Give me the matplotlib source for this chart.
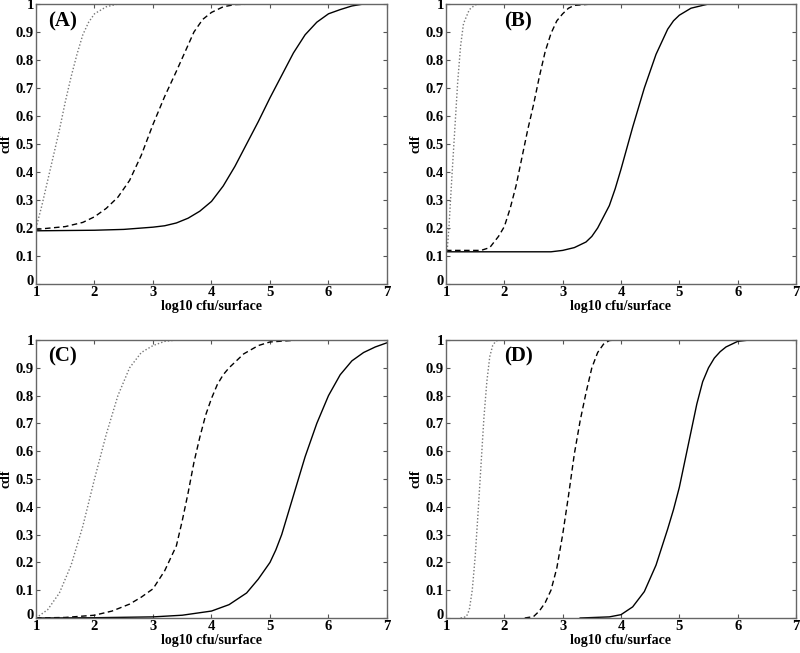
import matplotlib
matplotlib.use("Agg")
import matplotlib.pyplot as plt
import matplotlib.transforms as mtransforms

plt.rcParams['font.family'] = ['Liberation Serif', 'DejaVu Serif']
plt.rcParams['font.weight'] = 'bold'

panel_labels = ['(A)', '(B)', '(C)', '(D)']
xlabel = 'log10 cfu/surface'
ylabel = 'cdf'
xticks = [1, 2, 3, 4, 5, 6, 7]
yticks = [0, 0.1, 0.2, 0.3, 0.4, 0.5, 0.6, 0.7, 0.8, 0.9, 1]
ytick_labels = ['0', '0.1', '0.2', '0.3', '0.4', '0.5', '0.6', '0.7', '0.8', '0.9', '1']

# Panel A
A_solid_x = [1, 2, 2.5, 3, 3.2, 3.4, 3.6, 3.8, 4, 4.2, 4.4, 4.6, 4.8, 5, 5.2, 5.4, 5.6, 5.8, 6, 6.2, 6.4, 6.6, 7]
A_solid_y = [0.19, 0.192, 0.195, 0.203, 0.208, 0.218, 0.235, 0.26, 0.295, 0.35, 0.42, 0.5, 0.58, 0.665, 0.745, 0.825, 0.89, 0.935, 0.965, 0.98, 0.993, 1.0, 1.0]
A_dash_x = [1, 1.5, 1.8, 2.0, 2.2, 2.4, 2.6, 2.8, 3.0, 3.2, 3.4, 3.55, 3.7, 3.85, 4.0, 4.2, 4.4, 4.8]
A_dash_y = [0.195, 0.205, 0.22, 0.24, 0.27, 0.31, 0.37, 0.46, 0.57, 0.67, 0.76, 0.83, 0.9, 0.945, 0.97, 0.99, 0.998, 1.0]
A_dot_x = [1, 1.1, 1.2, 1.3, 1.4, 1.5, 1.6, 1.7, 1.8, 1.9, 2.0, 2.2, 2.4, 2.55]
A_dot_y = [0.2, 0.28, 0.37, 0.46, 0.55, 0.65, 0.74, 0.82, 0.89, 0.935, 0.965, 0.99, 1.0, 1.0]

# Panel B
B_solid_x = [1, 2.8, 3.0, 3.2, 3.4, 3.5, 3.6, 3.7, 3.8, 3.9, 4.0, 4.2, 4.4, 4.6, 4.8, 4.9, 5.0, 5.2, 5.5, 6.0]
B_solid_y = [0.115, 0.115, 0.12, 0.13, 0.15, 0.17, 0.2, 0.24, 0.28, 0.34, 0.41, 0.56, 0.7, 0.82, 0.91, 0.94, 0.96, 0.985, 1.0, 1.0]
B_dash_x = [1, 1.6, 1.75, 1.9, 2.0, 2.1, 2.2, 2.3, 2.4, 2.5, 2.6, 2.7, 2.8, 2.9, 3.0, 3.1, 3.2, 3.5]
B_dash_y = [0.12, 0.12, 0.13, 0.17, 0.205, 0.27, 0.35, 0.45, 0.55, 0.64, 0.74, 0.83, 0.895, 0.94, 0.965, 0.985, 0.995, 1.0]
B_dot_x = [1.02, 1.05, 1.1, 1.15, 1.2, 1.25, 1.3, 1.4, 1.5, 1.6]
B_dot_y = [0.12, 0.2, 0.38, 0.55, 0.72, 0.85, 0.93, 0.98, 0.997, 1.0]

# Panel C
C_solid_x = [1, 2, 3, 3.5, 4, 4.3, 4.6, 4.8, 5.0, 5.1, 5.2, 5.3, 5.4, 5.5, 5.6, 5.8, 6.0, 6.2, 6.4, 6.6, 6.8, 7.0]
C_solid_y = [0, 0.001, 0.004, 0.01, 0.025, 0.048, 0.09, 0.14, 0.2, 0.245, 0.3, 0.37, 0.44, 0.51, 0.58, 0.7, 0.8, 0.875, 0.925, 0.955, 0.975, 0.99]
C_dash_x = [1, 1.5, 2, 2.3, 2.6, 2.8, 3.0, 3.2, 3.4, 3.5, 3.6, 3.7, 3.8, 3.9, 4.0, 4.1, 4.2, 4.3, 4.4, 4.55, 4.8, 5.0, 5.5]
C_dash_y = [0, 0.002, 0.01, 0.025, 0.05, 0.075, 0.105, 0.17, 0.26, 0.35, 0.45, 0.56, 0.65, 0.73, 0.79, 0.84, 0.875, 0.9, 0.92, 0.95, 0.98, 0.993, 1.0]
C_dot_x = [1, 1.2, 1.4, 1.6, 1.8, 2.0, 2.2, 2.4, 2.6, 2.8, 3.0, 3.2, 3.4]
C_dot_y = [0, 0.03, 0.09, 0.19, 0.33, 0.5, 0.66, 0.8, 0.9, 0.955, 0.98, 0.995, 1.0]

# Panel D
D_solid_x = [3.3, 3.8, 4.0, 4.2, 4.4, 4.6, 4.8, 4.9, 5.0, 5.1, 5.2, 5.3, 5.4, 5.5, 5.6, 5.7, 5.8, 6.0, 6.2, 6.55]
D_solid_y = [0, 0.004, 0.012, 0.04, 0.095, 0.19, 0.32, 0.39, 0.47, 0.57, 0.67, 0.77, 0.85, 0.9, 0.935, 0.958, 0.975, 0.995, 1.0, 1.0]
D_dash_x = [2.35, 2.5, 2.6, 2.7, 2.8, 2.9, 3.0, 3.1, 3.2, 3.3, 3.4, 3.5, 3.6, 3.7, 3.8, 3.9]
D_dash_y = [0, 0.005, 0.025, 0.055, 0.1, 0.18, 0.3, 0.44, 0.59, 0.71, 0.81, 0.9, 0.955, 0.985, 0.998, 1.0]
D_dot_x = [1.25, 1.35, 1.4, 1.45, 1.5, 1.55, 1.6, 1.65, 1.7, 1.75, 1.8, 1.85, 1.9]
D_dot_y = [0, 0.005, 0.03, 0.1, 0.22, 0.38, 0.55, 0.72, 0.85, 0.94, 0.98, 0.995, 1.0]

panels = [
    (A_solid_x, A_solid_y, A_dash_x, A_dash_y, A_dot_x, A_dot_y),
    (B_solid_x, B_solid_y, B_dash_x, B_dash_y, B_dot_x, B_dot_y),
    (C_solid_x, C_solid_y, C_dash_x, C_dash_y, C_dot_x, C_dot_y),
    (D_solid_x, D_solid_y, D_dash_x, D_dash_y, D_dot_x, D_dot_y),
]

W, H = 800, 653
fig = plt.figure(figsize=(W / 100, H / 100), dpi=100)

# axes boxes in pixels: left, top, right, bottom
boxes = [(36, 4, 387, 284), (446, 4, 796, 284), (36, 340, 387, 618), (446, 340, 796, 618)]
label_x = [1.2, 2.0, 1.2, 2.0]

for i, (box, data) in enumerate(zip(boxes, panels)):
    l, t, r, b = box
    ax = fig.add_axes([l / W, 1 - b / H, (r - l) / W, (b - t) / H])
    sx, sy, dx, dy, ox, oy = data
    ax.plot(sx, sy, color='black', lw=1.0, ls='-')
    ax.plot(dx, dy, color='black', lw=1.0, ls=(0, (4, 2.5)))
    ax.plot(ox, oy, color='#777777', lw=1.0, ls=(0, (1, 1.5)))
    ax.set_xlim(1, 7)
    ax.set_ylim(0, 1)
    ax.set_xticks(xticks)
    ax.set_yticks(yticks)
    ax.set_yticklabels(ytick_labels)
    ax.tick_params(direction='in', length=3, width=0.8, top=True, right=True,
                   labelsize=10.5, pad=1.5, color='#555555')
    for lab in ax.get_xticklabels() + ax.get_yticklabels():
        lab.set_fontweight('bold')
    # nudge the "0" y label up slightly, as in the reference corner
    y0 = ax.get_yticklabels()[0]
    y0.set_transform(y0.get_transform() + mtransforms.ScaledTranslation(0, 4 / 100, fig.dpi_scale_trans))
    for sp in ax.spines.values():
        sp.set_color('#666666')
        sp.set_linewidth(1.0)
    ax.set_xlabel(xlabel, fontsize=10, fontweight='bold', labelpad=1)
    ax.set_ylabel(ylabel, fontsize=10, fontweight='bold', labelpad=2)
    ax.text(label_x[i], 0.975, panel_labels[i], fontsize=15, fontweight='bold',
            va='top', ha='left', transform=ax.transData)

fig.savefig('out.png', dpi=100)
